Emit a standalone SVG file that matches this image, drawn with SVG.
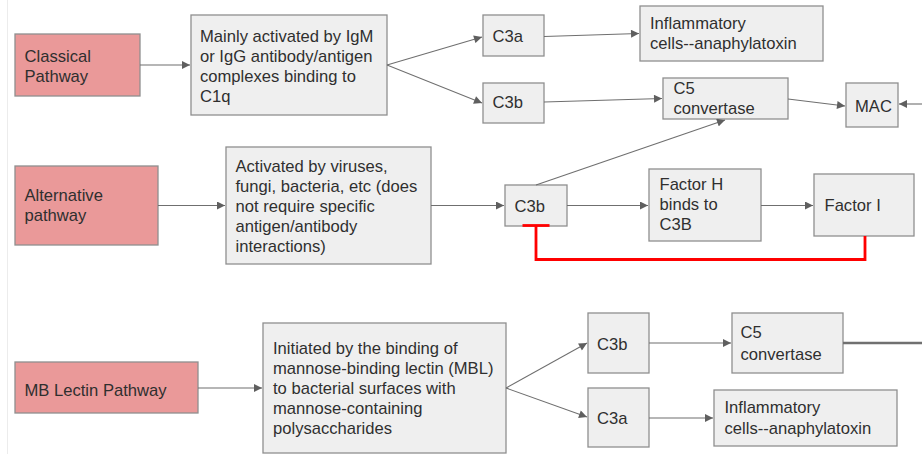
<svg xmlns="http://www.w3.org/2000/svg" width="922" height="454" viewBox="0 0 922 454">
  <defs>
    <style>
      .bg { fill: #ffffff; }
      .edge { stroke: #ececec; stroke-width: 1; }
      .path-box { fill: #ea9999; stroke: #8f8f8f; stroke-width: 1.3; }
      .box { fill: #efefef; stroke: #8f8f8f; stroke-width: 1.3; }
      .label { font-family: "Liberation Sans", Arial, sans-serif; font-size: 16.6px; fill: #2f2f2f; }
      .conn { fill: none; stroke: #6f6f6f; stroke-width: 1.1; }
      .conn-arrow { fill: none; stroke: #6f6f6f; stroke-width: 1.1; marker-end: url(#arrow); }
      .conn-thick { fill: none; stroke: #707070; stroke-width: 2.4; }
      .inhibit { fill: none; stroke: #ff0000; stroke-width: 2.8; }
    </style>
    <marker id="arrow" viewBox="0 0 10 10" refX="10" refY="5" markerUnits="userSpaceOnUse" markerWidth="10" markerHeight="8" orient="auto">
      <path d="M0,0 L10,5 L0,10 z" fill="#5f5f5f"/>
    </marker>
  </defs>

  <rect class="bg" x="0" y="0" width="922" height="454"/>
  <line class="edge" x1="7.5" y1="0" x2="7.5" y2="454"/>

  <!-- classical pathway nodes -->
  <g id="classical">
    <rect class="path-box" x="15" y="34" width="125" height="62"/>
    <text class="label" x="24.5"><tspan x="24.5" y="61.5">Classical</tspan><tspan x="24.5" y="81.5">Pathway</tspan></text>
  </g>
  <g id="classical-trigger">
    <rect class="box" x="191" y="15" width="196" height="100"/>
    <text class="label"><tspan x="200" y="41.5">Mainly activated by IgM</tspan><tspan x="200" y="61.5">or IgG antibody/antigen</tspan><tspan x="200" y="81.5">complexes binding to</tspan><tspan x="200" y="101.5">C1q</tspan></text>
  </g>
  <g id="classical-c3a">
    <rect class="box" x="483" y="15" width="61" height="41"/>
    <text class="label" x="492.5" y="41.5">C3a</text>
  </g>
  <g id="classical-inflammatory">
    <rect class="box" x="640" y="6" width="183" height="55"/>
    <text class="label"><tspan x="650" y="28.5">Inflammatory</tspan><tspan x="650" y="48.5">cells--anaphylatoxin</tspan></text>
  </g>
  <g id="classical-c3b">
    <rect class="box" x="483" y="83" width="61" height="40"/>
    <text class="label" x="492.5" y="108">C3b</text>
  </g>
  <g id="classical-c5">
    <rect class="box" x="663" y="78" width="125" height="41"/>
    <text class="label"><tspan x="673.5" y="94">C5</tspan><tspan x="673.5" y="113.5">convertase</tspan></text>
  </g>
  <g id="mac">
    <rect class="box" x="846" y="83" width="52" height="44"/>
    <text class="label" x="855" y="111.5">MAC</text>
  </g>

  <!-- alternative pathway nodes -->
  <g id="alternative">
    <rect class="path-box" x="15" y="166" width="143" height="79"/>
    <text class="label"><tspan x="24.5" y="201">Alternative</tspan><tspan x="24.5" y="221">pathway</tspan></text>
  </g>
  <g id="alternative-trigger">
    <rect class="box" x="226" y="147" width="205" height="117"/>
    <text class="label"><tspan x="235.5" y="171.5">Activated by viruses,</tspan><tspan x="235.5" y="191.5">fungi, bacteria, etc (does</tspan><tspan x="235.5" y="211.5">not require specific</tspan><tspan x="235.5" y="231.5">antigen/antibody</tspan><tspan x="235.5" y="251.5">interactions)</tspan></text>
  </g>
  <g id="alternative-c3b">
    <rect class="box" x="505" y="185" width="62" height="41"/>
    <text class="label" x="514.5" y="211.5">C3b</text>
  </g>
  <g id="factor-h">
    <rect class="box" x="649" y="169" width="112" height="72"/>
    <text class="label"><tspan x="659.5" y="190">Factor H</tspan><tspan x="659.5" y="210">binds to</tspan><tspan x="659.5" y="230">C3B</tspan></text>
  </g>
  <g id="factor-i">
    <rect class="box" x="814" y="174" width="100" height="62"/>
    <text class="label" x="824.5" y="210.5">Factor I</text>
  </g>

  <!-- MB lectin pathway nodes -->
  <g id="lectin">
    <rect class="path-box" x="15" y="362" width="183" height="51"/>
    <text class="label" x="24.5" y="395.5">MB Lectin Pathway</text>
  </g>
  <g id="lectin-trigger">
    <rect class="box" x="263" y="323" width="243" height="130"/>
    <text class="label"><tspan x="273" y="353.5">Initiated by the binding of</tspan><tspan x="273" y="373.5">mannose-binding lectin (MBL)</tspan><tspan x="273" y="393.5">to bacterial surfaces with</tspan><tspan x="273" y="413.5">mannose-containing</tspan><tspan x="273" y="433.5">polysaccharides</tspan></text>
  </g>
  <g id="lectin-c3b">
    <rect class="box" x="588" y="313" width="61" height="60"/>
    <text class="label" x="597" y="350">C3b</text>
  </g>
  <g id="lectin-c3a">
    <rect class="box" x="588" y="388" width="61" height="59"/>
    <text class="label" x="597" y="424">C3a</text>
  </g>
  <g id="lectin-c5">
    <rect class="box" x="732" y="313" width="111" height="60"/>
    <text class="label"><tspan x="740.5" y="338">C5</tspan><tspan x="740.5" y="360">convertase</tspan></text>
  </g>
  <g id="lectin-inflammatory">
    <rect class="box" x="714" y="390" width="183" height="56"/>
    <text class="label"><tspan x="724.5" y="413">Inflammatory</tspan><tspan x="724.5" y="433.5">cells--anaphylatoxin</tspan></text>
  </g>

  <!-- connectors, drawn over the nodes -->
  <g id="connectors">
    <!-- classical pathway -->
    <line class="conn-arrow" x1="140" y1="65" x2="190" y2="65"/>
    <line class="conn-arrow" x1="387" y1="65" x2="482" y2="37"/>
    <line class="conn-arrow" x1="387" y1="65" x2="482" y2="103"/>
    <line class="conn-arrow" x1="544" y1="36.5" x2="639" y2="33.5"/>
    <line class="conn-arrow" x1="544" y1="102" x2="662" y2="98.5"/>
    <line class="conn-arrow" x1="788" y1="99" x2="845" y2="106"/>
    <line class="conn-arrow" x1="922" y1="104" x2="899" y2="104"/>
    <!-- alternative pathway -->
    <line class="conn-arrow" x1="158" y1="205.5" x2="225" y2="205.5"/>
    <line class="conn-arrow" x1="431" y1="205.5" x2="504" y2="205.5"/>
    <line class="conn-arrow" x1="536" y1="185" x2="725" y2="120"/>
    <line class="conn-arrow" x1="567" y1="205.5" x2="648" y2="205.5"/>
    <line class="conn-arrow" x1="761" y1="205.5" x2="813" y2="205.5"/>
    <!-- factor I inhibits C3b -->
    <polyline class="inhibit" points="865,236 865,259.5 536,259.5 536,225.5"/>
    <line class="inhibit" x1="522.5" y1="225.5" x2="549.5" y2="225.5"/>
    <!-- MB lectin pathway -->
    <line class="conn-arrow" x1="198" y1="388" x2="262" y2="388"/>
    <line class="conn-arrow" x1="506" y1="388" x2="587" y2="343"/>
    <line class="conn-arrow" x1="506" y1="388" x2="587" y2="417"/>
    <line class="conn-arrow" x1="649" y1="343" x2="731" y2="343"/>
    <line class="conn-arrow" x1="649" y1="418" x2="713" y2="418"/>
    <line class="conn-thick" x1="843" y1="343" x2="922" y2="343"/>
  </g>
</svg>
